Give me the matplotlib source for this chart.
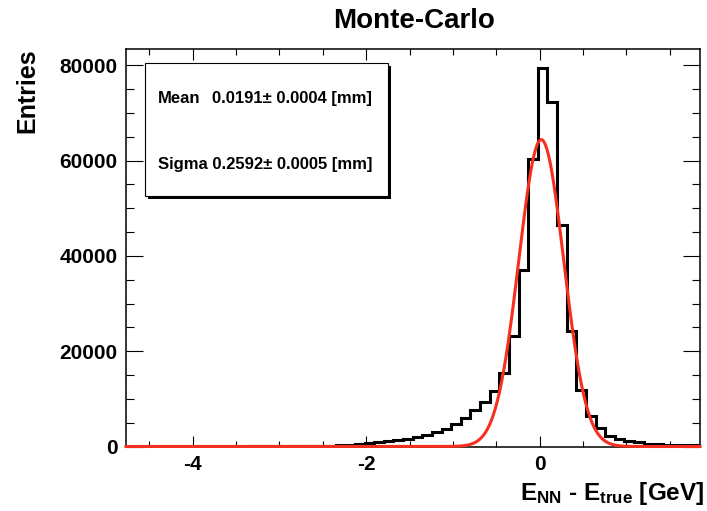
import matplotlib
matplotlib.use("Agg")
import matplotlib.pyplot as plt
from matplotlib.patches import Rectangle
from matplotlib.ticker import MultipleLocator
import numpy as np

plt.rcParams['font.family'] = ['Liberation Sans', 'DejaVu Sans']
plt.rcParams['font.weight'] = 'bold'
plt.rcParams['axes.unicode_minus'] = False
plt.rcParams['mathtext.fontset'] = 'custom'
plt.rcParams['mathtext.rm'] = 'Liberation Sans:bold'
plt.rcParams['mathtext.bf'] = 'Liberation Sans:bold'
plt.rcParams['mathtext.it'] = 'Liberation Sans:bold'

# histogram: uniform bins, first edge and width
BIN_FIRST_EDGE = -4.793
BIN_WIDTH = 0.111
COUNTS = [
    0, 0, 0, 0, 0, 0, 0, 0, 0, 0, 0, 0, 0,
    5, 10, 20, 35, 50, 70, 100, 140, 200, 270, 350, 480, 630, 840,
    1050, 1320, 1610, 2030, 2450, 3000, 3750, 4800, 6000, 7600, 9300,
    11700, 15500, 23200, 37000, 60400, 79500, 72200, 46400, 24300, 11900,
    6300, 3900, 2200, 1600, 1200, 850, 600, 480, 400, 330, 270, 220,
]
BIN_EDGES = BIN_FIRST_EDGE + BIN_WIDTH * np.arange(len(COUNTS) + 1)

# gaussian fit shown in red
FIT_AMPLITUDE = 64400
FIT_MEAN = 0.0191
FIT_SIGMA = 0.2592

X_RANGE = (-4.77, 1.85)
X_TICKS = [-4, -2, 0]
Y_TICKS = [0, 20000, 40000, 60000, 80000]

MEAN_TEXT = "0.0191\u00b1 0.0004 [mm]"
SIGMA_TEXT = "Sigma 0.2592\u00b1 0.0005 [mm]"

W, H = 707, 511
fig = plt.figure(figsize=(W / 100, H / 100), dpi=100)
ax = fig.add_axes([126 / W, 1 - 446.5 / H, (700 - 126) / W, (446.5 - 48.7) / H])

ax.stairs(COUNTS, BIN_EDGES, color='black', linewidth=2.2, baseline=0, zorder=3)

xf = np.linspace(X_RANGE[0], X_RANGE[1], 800)
yf = FIT_AMPLITUDE * np.exp(-0.5 * ((xf - FIT_MEAN) / FIT_SIGMA) ** 2)
ax.plot(xf, yf, color='#f5301f', linewidth=2.2, zorder=4, clip_on=False)

ax.set_xlim(*X_RANGE)
ax.set_ylim(0, 1.05 * max(COUNTS))
ax.set_xticks(X_TICKS)
ax.set_yticks(Y_TICKS)
ax.xaxis.set_minor_locator(MultipleLocator(0.5))
ax.yaxis.set_minor_locator(MultipleLocator(5000))
ax.xaxis.set_tick_params(which='major', direction='in', top=True, length=8, width=0.8, pad=6)
ax.xaxis.set_tick_params(which='minor', direction='in', top=True, length=4, width=0.8)
ax.yaxis.set_tick_params(which='major', direction='in', right=True, length=12, width=0.8, pad=6)
ax.yaxis.set_tick_params(which='minor', direction='in', right=True, length=6, width=0.8)
for lab in ax.get_xticklabels() + ax.get_yticklabels():
    lab.set_fontsize(15)
    lab.set_fontweight('bold')
for s in ax.spines.values():
    s.set_linewidth(1.1)

fig.text(414 / W, 1 - 28 / H, "Monte-Carlo", ha='center', va='baseline',
         fontsize=20, fontweight='bold')
fig.text(27 / W, 1 - 48 / H, "Entries", rotation=90, ha='center', va='top',
         fontsize=18, fontweight='bold')
fig.text(704 / W, 1 - 499.5 / H, r"E$_{\rm NN}$ - E$_{\rm true}$ [GeV]",
         ha='right', va='baseline', fontsize=17.5, fontweight='bold')

# stats box with shadow
bx0, by0, bx1, by1 = 145, 63.5, 388, 196.5
fig.add_artist(Rectangle(((bx0 + 3) / W, 1 - (by1 + 3) / H), (bx1 - bx0) / W, (by1 - by0) / H,
                         transform=fig.transFigure, facecolor='black', edgecolor='none', zorder=5))
fig.add_artist(Rectangle((bx0 / W, 1 - by1 / H), (bx1 - bx0) / W, (by1 - by0) / H,
                         transform=fig.transFigure, facecolor='white', edgecolor='black',
                         linewidth=0.8, zorder=6))
fig.text(158 / W, 1 - 98.5 / H, "Mean", ha='left', va='center', fontsize=12,
         fontweight='bold', zorder=7)
fig.text(212.5 / W, 1 - 98.5 / H, MEAN_TEXT, ha='left', va='center', fontsize=12,
         fontweight='bold', zorder=7)
fig.text(158 / W, 1 - 165 / H, SIGMA_TEXT, ha='left', va='center', fontsize=12,
         fontweight='bold', zorder=7)

fig.savefig("out.png", dpi=100)
